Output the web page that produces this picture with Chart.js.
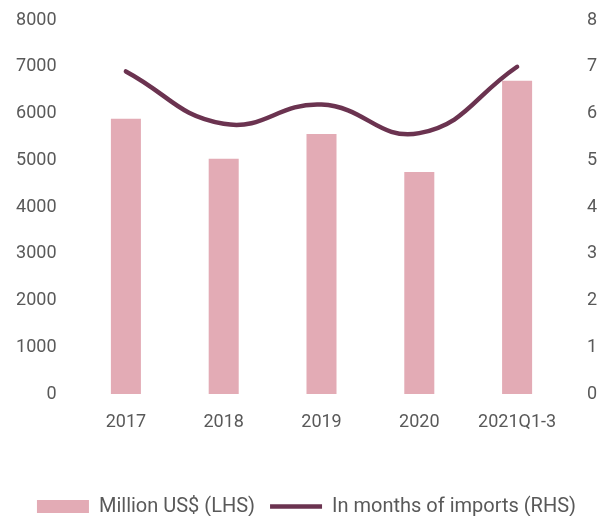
<!DOCTYPE html>
<html>
<head>
<meta charset="utf-8">
<script src="https://cdn.jsdelivr.net/npm/chart.js@4/dist/chart.umd.min.js"></script>
<style>
html,body{margin:0;padding:0;background:#fff;}
#wrap{width:605px;height:516px;}
</style>
</head>
<body>
<div id="wrap"><canvas id="c" width="605" height="516"></canvas></div>
<script>
const categories = ["2017", "2018", "2019", "2020", "2021Q1-3"];
const reservesMillionUSD = [5890, 5030, 5560, 4750, 6700];
const monthsOfImports = [6.9, 5.78, 6.19, 5.58, 7.0];
const leftTicks = [0, 1000, 2000, 3000, 4000, 5000, 6000, 7000, 8000];
const rightTicks = [0, 1, 2, 3, 4, 5, 6, 7, 8];

const textColor = '#595959';
const font = { family: 'Roboto', size: 18 };
const legendFont = { family: 'Roboto', size: 20 };

function fixVertical(width) {
  return (axis) => {
    axis.width = width;
    axis.paddingTop = 0;
    axis.paddingBottom = 0;
  };
}

new Chart(document.getElementById('c'), {
  data: {
    labels: categories,
    datasets: [
      {
        type: 'bar',
        label: 'Million US$ (LHS)',
        data: reservesMillionUSD,
        backgroundColor: '#e3abb5',
        borderWidth: 0,
        yAxisID: 'y',
        categoryPercentage: 1,
        barPercentage: 0.307,
        order: 2,
        pointStyle: 'rect'
      },
      {
        type: 'line',
        label: 'In months of imports (RHS)',
        data: monthsOfImports,
        borderColor: '#6b3350',
        backgroundColor: '#6b3350',
        borderWidth: 4.5,
        borderCapStyle: 'round',
        tension: 0.45,
        pointRadius: 0,
        pointStyle: 'line',
        yAxisID: 'y1',
        order: 1
      }
    ]
  },
  options: {
    responsive: false,
    animation: false,
    layout: { padding: { left: 16, right: 8, top: 20, bottom: -10.5 } },
    plugins: {
      tooltip: { enabled: false },
      legend: {
        position: 'bottom',
        labels: {
          color: textColor,
          font: legendFont,
          usePointStyle: true,
          pointStyleWidth: 52,
          boxHeight: 13,
          padding: 15,
          sort: (a, b) => a.datasetIndex - b.datasetIndex
        }
      }
    },
    scales: {
      x: {
        grid: { display: false, drawTicks: false },
        border: { display: false },
        ticks: { color: textColor, font: font, padding: 18, maxRotation: 0 },
        afterFit: (axis) => { axis.height = 87.5; }
      },
      y: {
        position: 'left',
        min: 0, max: 8000,
        afterBuildTicks: (axis) => { axis.ticks = leftTicks.map(v => ({ value: v })); },
        grid: { display: false, drawTicks: false },
        border: { display: false },
        ticks: { color: textColor, font: font, padding: 20.5, callback: (v) => String(v) },
        afterFit: fixVertical(61)
      },
      y1: {
        position: 'right',
        min: 0, max: 8,
        afterBuildTicks: (axis) => { axis.ticks = rightTicks.map(v => ({ value: v })); },
        grid: { display: false, drawTicks: false },
        border: { display: false },
        ticks: { color: textColor, font: font, padding: 21, callback: (v) => String(v) },
        afterFit: fixVertical(31)
      }
    }
  }
});
</script>
</body>
</html>
